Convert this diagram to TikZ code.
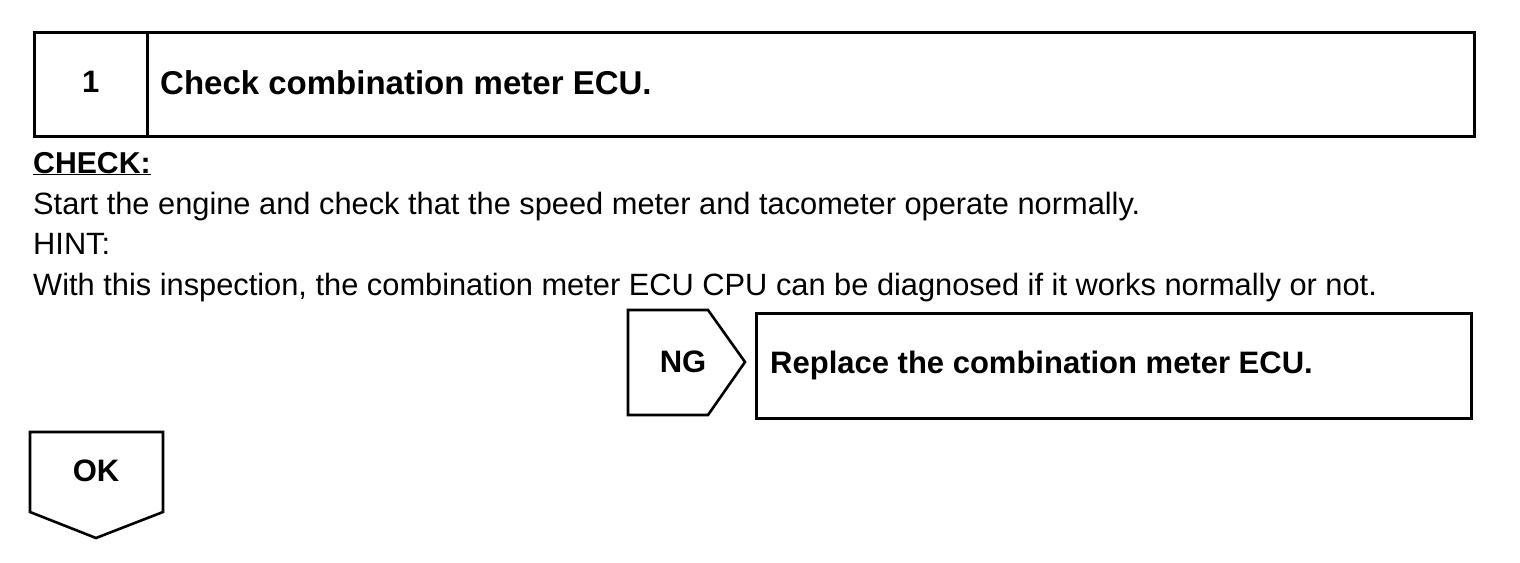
\documentclass[tikz,border=0pt]{standalone}
\usepackage{fontspec}
\setmainfont{Liberation Sans}
\usetikzlibrary{calc}
\tikzset{
  stepframe/.style={rectangle, draw=black, line width=2.6pt,
    inner sep=0pt, anchor=north west},
  steptitle/.style={font=\bfseries\fontsize{31}{36}\selectfont,
    anchor=west, inner sep=0pt},
  bodytext/.style={font=\fontsize{30.8}{36}\selectfont,
    anchor=base west, inner sep=0pt},
  outline/.style={draw=black, line width=2.6pt, line join=miter}
}

\begin{document}
\begin{tikzpicture}[x=1pt, y=-1pt]
\useasboundingbox (0,0) rectangle (1520,562);

% Step header
\node[stepframe, minimum width=113pt, minimum height=104pt] (numbox) at (33,31) {};
\node[stepframe, minimum width=1327pt, minimum height=104pt] (titlebox) at (146,31) {};
\node[steptitle, anchor=center] (num) at ($(numbox.center)+(0,-2)$) {1};
\node[steptitle, font=\bfseries\fontsize{33}{38}\selectfont] (title) at ($(titlebox.west)+(14,-2)$) {Check combination meter ECU.};

% ── Check text ──────────────────────────────────────────────
\node[bodytext, font=\bfseries\fontsize{30.2}{36}\selectfont] (check) at (33,173) {\underline{CHECK:}};
\node[bodytext] (start) at (33,214) {Start the engine and check that the speed meter and tacometer operate normally.};
\node[bodytext] (hint) at (33,254) {HINT:};
\node[bodytext] (with) at (33,295) {With this inspection, the combination meter ECU CPU can be diagnosed if it works normally or not.};

% ── NG branch ──────────────────────────────────────────────
\draw[outline] (628,310) -- (708,310) -- (745,362) -- (708,415) -- (628,415) -- cycle;
\node[steptitle, anchor=center] (ng) at (683,362) {NG};
\node[stepframe, minimum width=715pt, minimum height=105pt] (replacebox) at (755,312) {};
\node[steptitle] (replace) at ($(replacebox.west)+(15,0)$) {Replace the combination meter ECU.};

% ── OK branch ──────────────────────────────────────────────
\draw[outline] (30,432) -- (163,432) -- (163,512) -- (96,538) -- (30,512) -- cycle;
\node[steptitle, anchor=center] (ok) at (96,471) {OK};

\end{tikzpicture}
\end{document}
